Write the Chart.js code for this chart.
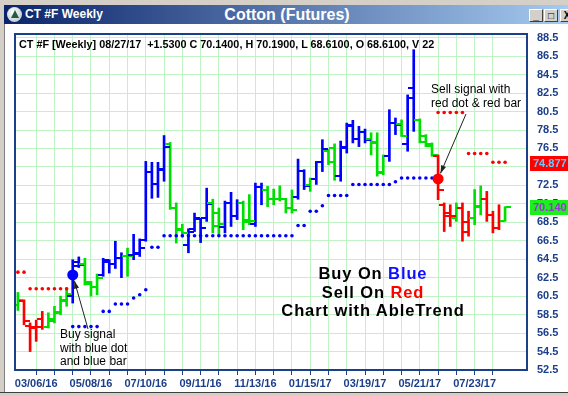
<!DOCTYPE html>
<html><head><meta charset="utf-8">
<script src="https://cdn.jsdelivr.net/npm/chart.js@4.4.1/dist/chart.umd.min.js"></script>
<style>
html,body{margin:0;padding:0;}
body{width:568px;height:396px;overflow:hidden;background:#d4d0c8;font-family:"Liberation Sans",Arial,sans-serif;}
#win{position:relative;width:568px;height:396px;}
#tb{position:absolute;left:4px;top:5px;width:564px;height:19px;background:linear-gradient(to right,#0a246a,#a6caf0);}
#icon{position:absolute;left:3px;top:2px;width:15px;height:15px;border-radius:50%;background:radial-gradient(circle at 40% 35%,#ffffff,#c8d0d8 70%,#708090);}
#icon:after{content:"";position:absolute;left:3.5px;top:3px;border-left:4px solid transparent;border-right:4px solid transparent;border-bottom:8px solid #1f5f3f;}
#tleft{position:absolute;left:21px;top:2px;color:#fff;font-weight:bold;font-size:12px;line-height:15px;white-space:nowrap;}
#tmid{position:absolute;left:0;width:566px;top:1px;text-align:center;color:#fff;font-weight:bold;font-size:16px;line-height:17px;}
.btn{position:absolute;top:4px;width:14px;height:13px;background:#d4d0c8;border-top:1px solid #fff;border-left:1px solid #fff;border-right:1px solid #404040;border-bottom:1px solid #404040;box-sizing:border-box;font:bold 10px/11px "Liberation Sans",Arial,sans-serif;text-align:center;color:#000;}
#content{position:absolute;left:4px;top:24px;width:564px;height:368px;background:#fff;border-left:1px solid #808080;box-sizing:border-box;}
#bottomline{position:absolute;left:0;top:392px;width:568px;height:1px;background:#404040;}
canvas{position:absolute;left:0;top:0;}
.txt{position:absolute;color:#000;white-space:nowrap;}
#hdr{left:19px;top:38px;font-size:10.8px;line-height:13px;font-weight:bold;white-space:pre;}
#sell{left:431px;top:82px;font-size:12px;line-height:14px;}
#buy{left:60px;top:328px;font-size:12px;line-height:13.5px;}
#big{left:273px;width:200px;top:264px;text-align:center;font-size:16.5px;line-height:18.7px;font-weight:bold;letter-spacing:0.9px;}
.pbox{position:absolute;left:530px;width:38px;height:15px;overflow:hidden;font-weight:bold;font-size:11px;line-height:15px;padding-left:3px;box-sizing:border-box;white-space:nowrap;}
#stopbox{background:#ff0000;color:#66ccff;}
#closebox{background:#1cf01c;color:#a030e0;}
</style>
</head>
<body>
<div id="win">
  <div id="content"></div>
  <div id="bottomline"></div>
  <div id="tb">
    <div id="icon"></div>
    <div id="tleft">CT #F Weekly</div>
    <div id="tmid">Cotton (Futures)</div>
    <div class="btn" style="left:525px">_</div>
    <div class="btn" style="left:540px">□</div>
    <div class="btn" style="left:556px">X</div>
  </div>
  <canvas id="c" width="568" height="396"></canvas>
  <div class="txt" id="hdr">CT #F [Weekly] 08/27/17  +1.5300 C 70.1400, H 70.1900, L 68.6100, O 68.6100, V 22</div>
  <div class="txt" id="sell">Sell signal with<br>red dot &amp; red bar</div>
  <div class="txt" id="buy">Buy signal<br>with blue dot<br>and blue bar</div>
  <div class="txt" id="big">Buy On <span style="color:#1010ff">Blue</span><br>Sell On <span style="color:#ff0000">Red</span><br>Chart with AbleTrend</div>
  <div class="pbox" id="stopbox">74.877</div>
  <div class="pbox" id="closebox">70.140</div>
</div>
<script>
// ---- data ----
const weekLabels = ['03/06/16','05/08/16','07/10/16','09/11/16','11/13/16','01/15/17','03/19/17','05/21/17','07/23/17'];
const gridWeeks = [0,3,6,9,12,15,18,21,24,27,30,33,36,39,42,45,48,51,54,57,60,63,66,69,72,75];
const priceTicks = [52.5,54.5,56.5,58.5,60.5,62.5,64.5,66.5,68.5,70.5,72.5,74.5,76.5,78.5,80.5,82.5,84.5,86.5,88.5];
const firstBarWeek = -3;
const barColors = ('grrrrgggg'+'bbgggbbbbg'+'bbbbbbgggb'+'bbbggbbbgg'+'bbgggggbbg'+'bbggbbbbbg'+'ggbbgbbggg'+'rrrgrrggrr'+'rg').split('');
const opens = [59.5,60.0,57.3,57.0,58.0,57.2,58.0,58.8,60.0,
  60.5,64.2,64.0,61.8,61.5,62.8,64.2,64.0,64.6,64.8,
  65.0,65.2,66.6,73.9,72.6,74.3,77.0,70.0,67.8,66.0,
  67.8,68.9,69.0,70.6,69.5,68.0,70.6,69.2,70.6,68.5,
  68.3,72.3,72.0,71.0,71.0,71.0,70.0,71.2,74.1,72.5,
  73.2,75.0,76.2,76.5,73.5,76.5,78.9,77.5,78.3,77.5,
  77.2,74.0,75.7,79.3,79.2,77.0,83.0,79.6,77.8,77.0,
  75.7,70.4,69.5,69.0,70.0,68.5,69.0,70.3,71.0,69.3,
  67.9,68.61];
const highs = [60.9,60.1,57.6,57.9,58.85,58.7,59.4,60.5,61.4,
  64.45,64.75,64.6,62.1,62.9,64.6,64.45,66.45,65.2,65.7,
  67.2,66.7,75.1,75.0,75.0,77.9,77.15,70.6,68.3,67.8,
  69.5,68.95,72.2,71.0,70.05,70.8,71.75,70.95,70.8,71.5,
  72.75,72.75,72.4,72.1,72.45,71.1,72.0,75.35,74.2,73.3,
  75.1,77.45,76.4,77.0,77.3,79.25,79.55,78.9,78.6,78.2,
  78.2,75.8,80.7,79.8,79.6,82.3,87.2,79.7,78.0,77.1,
  75.8,70.6,70.4,70.6,70.6,69.7,72.05,72.45,71.85,69.7,
  70.4,70.19];
const lows = [58.95,57.4,54.5,55.6,56.9,57.05,57.6,58.5,59.4,
  59.75,63.6,61.7,60.5,60.65,62.65,63.0,63.5,62.5,62.65,
  64.45,64.8,66.45,71.1,71.2,72.95,69.9,66.25,66.9,65.2,
  67.5,66.3,68.6,67.35,67.15,67.35,68.05,68.8,67.7,68.25,
  68.05,70.4,70.2,70.4,70.8,69.5,69.5,71.0,72.05,71.85,
  72.6,74.0,74.75,73.05,72.95,76.0,77.1,76.7,77.1,75.8,
  73.5,73.65,75.1,78.0,77.8,76.2,78.35,77.1,76.7,75.65,
  70.95,67.5,68.05,68.6,66.45,67.0,68.25,69.3,68.6,67.35,
  67.7,68.61];
const closes = [60.1,57.8,57.2,57.2,57.2,57.8,58.7,60.1,60.7,
  63.8,63.9,62.0,61.5,62.5,64.4,64.0,64.6,64.8,64.9,
  65.1,65.7,73.9,72.6,74.2,76.7,70.0,67.7,67.3,67.4,
  69.0,67.9,70.5,68.1,68.3,70.6,69.15,70.6,68.8,68.6,
  72.3,72.0,71.0,71.0,71.0,70.0,69.8,74.1,72.4,73.2,
  75.0,76.45,75.0,73.5,76.65,79.0,77.5,78.3,77.4,77.1,
  73.8,75.7,79.25,79.0,77.9,82.0,79.6,77.2,76.8,75.8,
  72.0,69.2,69.2,70.1,67.5,69.0,70.2,71.0,69.3,67.9,
  68.6,70.14];
const blueStops = [null,null,null,null,null,null,null,null,null,
  57.2,57.2,57.2,57.2,57.2,58.85,58.85,59.65,59.65,59.65,
  60.3,60.65,61.2,65.8,65.8,67.05,67.05,67.05,67.05,67.05,
  67.05,67.05,67.05,67.05,67.05,67.05,67.05,67.05,67.05,67.05,
  67.05,67.05,67.05,67.05,67.05,67.05,67.05,68.15,68.15,69.7,
  69.7,70.3,71.4,71.4,71.4,71.4,72.6,72.6,72.6,72.6,
  72.6,72.6,72.6,72.9,73.3,73.3,73.3,73.3,73.3,73.3,
  null,null,null,null,null,null,null,null,null,null,
  null,null];
const redStops = [63.1,63.1,61.3,61.3,61.3,61.3,61.3,61.3,61.3,
  null,null,null,null,null,null,null,null,null,null,
  null,null,null,null,null,null,null,null,null,null,
  null,null,null,null,null,null,null,null,null,null,
  null,null,null,null,null,null,null,null,null,null,
  null,null,null,null,null,null,null,null,null,null,
  null,null,null,null,null,null,null,null,null,null,
  80.4,80.4,80.4,80.4,80.4,75.95,75.95,75.95,75.95,75.0,
  75.0,75.0];
const buySignal = {week: 6, price: 62.8};
const sellSignal = {week: 66, price: 73.2};
const stopLevel = 74.877;
const lastClose = 70.14;

// ---- styles ----
const palette = {b:'#0000ff', g:'#00e000', r:'#ff0000'};
const axisColor = '#1c3f8a';
const gridColor = '#bff3c4';
const axisFont = {family:'"Liberation Sans", Arial, sans-serif', size:11, weight:'bold'};

function tickImg(color, left){
  const c = document.createElement('canvas'); c.width = 11; c.height = 2;
  const g = c.getContext('2d'); g.fillStyle = color;
  if (left) g.fillRect(0,0,5,2); else g.fillRect(6,0,5,2);
  return c;
}
const openImg = {}, closeImg = {};
for (const k in palette){ openImg[k] = tickImg(palette[k], true); closeImg[k] = tickImg(palette[k], false); }

const weeks = barColors.map((_, i) => firstBarWeek + i);
const pts = (arr) => weeks.map((w, i) => ({x: w, y: arr[i]})).filter(p => p.y !== null);

const framePlugin = {
  id: 'frame',
  afterDatasetsDraw(chart){
    const {ctx, chartArea: a, scales: {x, y}} = chart;
    ctx.save();
    ctx.strokeStyle = axisColor; ctx.lineWidth = 2;
    ctx.strokeRect(a.left, a.top, a.right - a.left, a.bottom - a.top);
    const arrows = [
      {from: [466, 114], sig: sellSignal},
      {from: [88, 329], sig: buySignal}
    ];
    ctx.strokeStyle = '#222'; ctx.fillStyle = '#222'; ctx.lineWidth = 1;
    for (const ar of arrows){
      const tx = x.getPixelForValue(ar.sig.week), ty = y.getPixelForValue(ar.sig.price);
      const dx = tx - ar.from[0], dy = ty - ar.from[1];
      const len = Math.hypot(dx, dy), ux = dx/len, uy = dy/len;
      const ex = tx - ux*6, ey = ty - uy*6;
      ctx.beginPath(); ctx.moveTo(ar.from[0], ar.from[1]); ctx.lineTo(ex, ey); ctx.stroke();
      const hl = 8, hw = 2.6;
      ctx.beginPath();
      ctx.moveTo(ex, ey);
      ctx.lineTo(ex - ux*hl - uy*hw, ey - uy*hl + ux*hw);
      ctx.lineTo(ex - ux*hl + uy*hw, ey - uy*hl - ux*hw);
      ctx.closePath(); ctx.fill();
    }
    ctx.restore();
  }
};

const chart = new Chart(document.getElementById('c'), {
  type: 'bar',
  data: {
    datasets: [
      {type:'scatter', label:'Buy signal', data:[{x:buySignal.week, y:buySignal.price}], pointRadius:5.5, backgroundColor:'#0000ff', borderWidth:0, order:0},
      {type:'scatter', label:'Sell signal', data:[{x:sellSignal.week, y:sellSignal.price}], pointRadius:5.5, backgroundColor:'#ff0000', borderWidth:0, order:0},
      {type:'scatter', label:'Blue stop', data:pts(blueStops), pointRadius:1.8, backgroundColor:'#0000ff', borderWidth:0, order:1},
      {type:'scatter', label:'Red stop', data:pts(redStops), pointRadius:1.8, backgroundColor:'#ff0000', borderWidth:0, order:1},
      {type:'scatter', label:'Open', data:pts(opens), pointStyle:barColors.map(c => openImg[c]), pointRadius:3, order:2},
      {type:'scatter', label:'Close', data:pts(closes), pointStyle:barColors.map(c => closeImg[c]), pointRadius:3, order:2},
      {type:'bar', label:'Range', data:weeks.map((w, i) => ({x:w, y:[lows[i], highs[i]]})),
        backgroundColor:barColors.map(c => palette[c]), borderWidth:0, barThickness:2, grouped:false, order:3}
    ]
  },
  options: {
    responsive:false, animation:false, devicePixelRatio:1, events:[],
    layout:{padding:{left:15, top:34, right:0, bottom:0}, autoPadding:false},
    plugins:{legend:{display:false}, tooltip:{enabled:false}},
    scales:{
      x:{type:'linear', min:-3.48, max:80.6, offset:false, bounds:'data',
        grid:{color:gridColor, tickColor:axisColor, tickLength:5, drawTicks:true, offset:false},
        border:{display:false},
        afterBuildTicks: s => { s.ticks = gridWeeks.map(v => ({value:v})); },
        afterFit: s => { s.height = 26; },
        ticks:{autoSkip:false, maxRotation:0, minRotation:0, padding:2, color:axisColor, font:axisFont,
          callback: v => (v % 9 === 0 ? weekLabels[v/9] : '')}
      },
      y:{type:'linear', position:'right', min:52.5, max:88.9, beginAtZero:false, bounds:'data',
        grid:{color:gridColor, drawTicks:false},
        border:{display:false},
        afterBuildTicks: s => { s.ticks = priceTicks.map(v => ({value:v})); },
        afterFit: s => { s.width = 41; },
        ticks:{autoSkip:false, padding:10, color:axisColor, font:axisFont, callback: v => Number(v).toFixed(1)}
      }
    }
  },
  plugins:[framePlugin]
});

const ys = chart.scales.y;
document.getElementById('stopbox').style.top = (ys.getPixelForValue(stopLevel) - 7.5) + 'px';
document.getElementById('closebox').style.top = (ys.getPixelForValue(lastClose) - 7.5) + 'px';
</script>
</body></html>
